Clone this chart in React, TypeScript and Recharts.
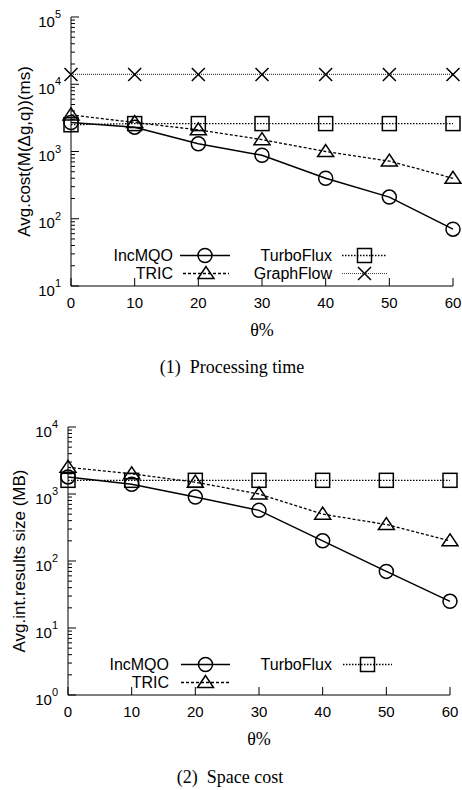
import React from 'react';
import { LineChart, Line, XAxis, YAxis } from 'recharts';

// theta (%) on the x axis
const theta = [0, 10, 20, 30, 40, 50, 60];

// (1) processing time, ms
const timeIncMQO = [2700, 2300, 1300, 880, 400, 210, 70];
const timeTRIC = [3500, 2700, 2100, 1500, 1000, 720, 400];
const timeTurboFlux = [2500, 2600, 2600, 2600, 2600, 2600, 2600];
const timeGraphFlow = [14000, 14000, 14000, 14000, 14000, 14000, 14000];

// (2) space cost, MB
const spaceIncMQO = [1800, 1400, 900, 570, 200, 70, 25];
const spaceTRIC = [2500, 2000, 1500, 1000, 500, 350, 200];
const spaceTurboFlux = [1600, 1600, 1600, 1600, 1600, 1600, 1600];

const timeDecades = [10, 100, 1000, 10000, 100000];
const spaceDecades = [1, 10, 100, 1000, 10000];

const SANS = '"Liberation Sans", Arial, Helvetica, sans-serif';
const SERIF = '"Liberation Serif", "Times New Roman", serif';

const logTicks = (decades: number[]) => {
  const out: number[] = [];
  decades.forEach((d, i) => {
    out.push(d);
    if (i < decades.length - 1) for (let k = 2; k <= 9; k++) out.push(k * d);
  });
  return out;
};
const isMajor = (v: number) => Math.abs(Math.log10(v) - Math.round(Math.log10(v))) < 1e-9;

const series = {
  IncMQO: { stroke: '#000', dash: undefined, width: 1.5, shape: 'circle' },
  TRIC: { stroke: '#000', dash: '3 2', width: 1.3, shape: 'triangle' },
  TurboFlux: { stroke: '#000', dash: '1.5 1.5', width: 1.3, shape: 'square' },
  GraphFlow: { stroke: '#444', dash: '1 1', width: 1.2, shape: 'cross' },
};

const Marker = ({ shape, cx, cy }: { shape: string; cx: number; cy: number }) => {
  const st = { fill: 'none', stroke: '#000', strokeWidth: 1.5 };
  if (shape === 'circle') return <circle cx={cx} cy={cy} r={7} {...st} />;
  if (shape === 'square') return <rect x={cx - 7} y={cy - 7} width={14} height={14} {...st} />;
  if (shape === 'triangle')
    return <polygon points={`${cx},${cy - 7} ${cx - 8},${cy + 5} ${cx + 8},${cy + 5}`} {...st} />;
  return (
    <path d={`M${cx - 6.5},${cy - 6.5}L${cx + 6.5},${cy + 6.5}M${cx - 6.5},${cy + 6.5}L${cx + 6.5},${cy - 6.5}`} {...st} />
  );
};

const dotFor = (shape: string) => (p: any) => {
  if (p.cx == null || p.cy == null) return <g key={`n-${p.index}`} />;
  return <Marker key={`${shape}-${p.index}`} shape={shape} cx={p.cx} cy={p.cy} />;
};

const LeftTick = (p: any) => {
  const v = p.payload.value;
  const major = isMajor(v);
  const exp = Math.round(Math.log10(v));
  return (
    <g>
      <line x1={p.x} y1={p.y} x2={p.x + (major ? 8 : 4)} y2={p.y} stroke="#000" />
      {major && (
        <text x={p.x - 10} y={p.y + 9.5} textAnchor="end" fontFamily={SANS} fontSize={15} fill="#000">
          <tspan>10</tspan>
          <tspan dy={-8.5} fontSize={11}>{exp}</tspan>
        </text>
      )}
    </g>
  );
};

const RightTick = (p: any) => {
  const major = isMajor(p.payload.value);
  return <line x1={p.x} y1={p.y} x2={p.x - (major ? 8 : 4)} y2={p.y} stroke="#000" />;
};

const BottomTick = (p: any) => (
  <g>
    <line x1={p.x} y1={p.y} x2={p.x} y2={p.y - 8} stroke="#000" />
    <text x={p.x} y={p.y + 21.5} textAnchor="middle" fontFamily={SANS} fontSize={15} fill="#000">
      {p.payload.value}
    </text>
  </g>
);

const TopTick = (p: any) => <line x1={p.x} y1={p.y} x2={p.x} y2={p.y + 8} stroke="#000" />;

type LegendItem = { name: keyof typeof series; textX: number; y: number; x1: number; x2: number };

const LegendOverlay = ({ items, width, height }: { items: LegendItem[]; width: number; height: number }) => (
  <svg width={width} height={height} style={{ position: 'absolute', left: 0, top: 0, pointerEvents: 'none' }}>
    {items.map((it) => {
      const s = series[it.name];
      return (
        <g key={it.name}>
          <text x={it.textX} y={it.y + 5.5} textAnchor="end" fontFamily={SANS} fontSize={16} fill="#000">
            {it.name}
          </text>
          <line x1={it.x1} y1={it.y} x2={it.x2} y2={it.y} stroke={s.stroke} strokeWidth={s.width} strokeDasharray={s.dash} />
          <Marker shape={s.shape} cx={(it.x1 + it.x2) / 2} cy={it.y} />
        </g>
      );
    })}
  </svg>
);

const YTitle = (text: string, dx: number) => (props: any) => {
  const vb = props.viewBox || { x: 0, y: 0, width: 0, height: 0 };
  const cx = vb.x + dx;
  const cy = vb.y + vb.height / 2;
  return (
    <text x={cx} y={cy} transform={`rotate(-90 ${cx} ${cy})`} textAnchor="middle" dominantBaseline="central"
      fontFamily={SANS} fontSize={17} fill="#000">
      {text}
    </text>
  );
};

const XTitle = (dy: number) => (props: any) => {
  const vb = props.viewBox || { x: 0, y: 0, width: 0, height: 0 };
  return (
    <text x={vb.x + vb.width / 2} y={vb.y + dy} textAnchor="middle" dominantBaseline="central"
      fontFamily={SERIF} fontSize={18} fill="#000">
      θ%
    </text>
  );
};

type PanelProps = {
  top: number;
  height: number;
  margin: { top: number; right: number; left: number; bottom: number };
  yWidth: number;
  xHeight: number;
  decades: number[];
  yTitle: string;
  yTitleDx: number;
  lines: { name: keyof typeof series; values: number[] }[];
  legend: LegendItem[];
};

const Panel = (p: PanelProps) => {
  const data = theta.map((t, i) => {
    const row: any = { theta: t };
    p.lines.forEach((l) => (row[l.name] = l.values[i]));
    return row;
  });
  const ticks = logTicks(p.decades);
  const domain = [p.decades[0], p.decades[p.decades.length - 1]];
  return (
    <div style={{ position: 'absolute', left: 0, top: p.top, width: 462, height: p.height }}>
      <LineChart width={462} height={p.height} data={data} margin={p.margin}>
        <XAxis xAxisId="b" dataKey="theta" type="number" domain={[0, 60]} ticks={theta} interval={0}
          height={p.xHeight} tickSize={0} tickMargin={0} tickLine={false} tick={BottomTick}
          axisLine={{ stroke: '#000' }} label={XTitle(44)} />
        <XAxis xAxisId="t" orientation="top" dataKey="theta" type="number" domain={[0, 60]} ticks={theta}
          interval={0} height={0} tickSize={0} tickMargin={0} tickLine={false} tick={TopTick}
          axisLine={{ stroke: '#000' }} />
        <YAxis yAxisId="l" type="number" scale="log" domain={domain} allowDataOverflow ticks={ticks}
          interval={0} width={p.yWidth} tickSize={0} tickMargin={0} tickLine={false} tick={LeftTick}
          axisLine={{ stroke: '#000' }} label={YTitle(p.yTitle, p.yTitleDx)} />
        <YAxis yAxisId="r" orientation="right" type="number" scale="log" domain={domain} allowDataOverflow
          ticks={ticks} interval={0} width={0} tickSize={0} tickMargin={0} tickLine={false} tick={RightTick}
          axisLine={{ stroke: '#000' }} />
        {p.lines.map((l) => {
          const s = series[l.name];
          return (
            <Line key={l.name} xAxisId="b" yAxisId="l" dataKey={l.name} type="linear" stroke={s.stroke}
              strokeWidth={s.width} strokeDasharray={s.dash} dot={dotFor(s.shape)} activeDot={false}
              isAnimationActive={false} />
          );
        })}
      </LineChart>
      <LegendOverlay items={p.legend} width={462} height={p.height} />
    </div>
  );
};

const Caption = ({ text, top, center }: { text: string; top: number; center: number }) => (
  <div style={{ position: 'absolute', top: top - 11, left: center - 150, width: 300, textAlign: 'center',
    fontFamily: SERIF, fontSize: 18, lineHeight: '22px', color: '#000', whiteSpace: 'pre' }}>
    {text}
  </div>
);

export default function App() {
  return (
    <div style={{ position: 'absolute', left: 0, top: 0, width: 462, height: 790, background: '#fff' }}>
      <Panel
        top={0}
        height={345}
        margin={{ top: 17, right: 9, left: 0, bottom: 0 }}
        yWidth={71}
        xHeight={59}
        decades={timeDecades}
        yTitle="Avg.cost(M(Δg,q))(ms)"
        yTitleDx={24}
        lines={[
          { name: 'GraphFlow', values: timeGraphFlow },
          { name: 'TurboFlux', values: timeTurboFlux },
          { name: 'TRIC', values: timeTRIC },
          { name: 'IncMQO', values: timeIncMQO },
        ]}
        legend={[
          { name: 'IncMQO', textX: 173, y: 255.5, x1: 180, x2: 230 },
          { name: 'TRIC', textX: 173, y: 273.5, x1: 183, x2: 229 },
          { name: 'TurboFlux', textX: 332, y: 255.5, x1: 342, x2: 387 },
          { name: 'GraphFlow', textX: 332, y: 273.5, x1: 342, x2: 387 },
        ]}
      />
      <Caption text="(1)  Processing time" top={367} center={232} />
      <Panel
        top={390}
        height={360}
        margin={{ top: 37, right: 12, left: 0, bottom: 0 }}
        yWidth={68}
        xHeight={55}
        decades={spaceDecades}
        yTitle="Avg.int.results size (MB)"
        yTitleDx={19}
        lines={[
          { name: 'TurboFlux', values: spaceTurboFlux },
          { name: 'TRIC', values: spaceTRIC },
          { name: 'IncMQO', values: spaceIncMQO },
        ]}
        legend={[
          { name: 'IncMQO', textX: 169, y: 274.5, x1: 181, x2: 230 },
          { name: 'TRIC', textX: 169, y: 292.5, x1: 181, x2: 230 },
          { name: 'TurboFlux', textX: 332, y: 274.5, x1: 343, x2: 392 },
        ]}
      />
      <Caption text="(2)  Space cost" top={777} center={230} />
    </div>
  );
}
